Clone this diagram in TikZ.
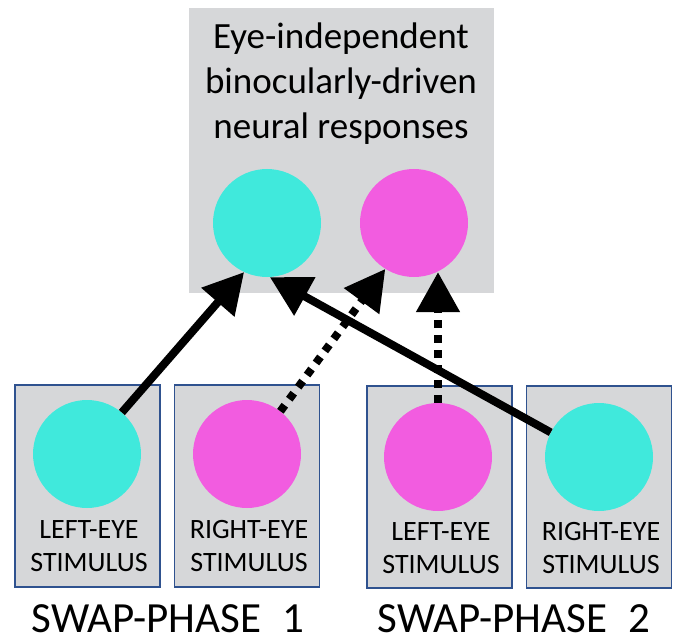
\documentclass[tikz,border=0pt]{standalone}
\usepackage{fontspec}
\setmainfont{Carlito}
\usetikzlibrary{arrows.meta}
\definecolor{respgray}{RGB}{214,215,217}
\definecolor{eyecyan}{RGB}{64,233,220}
\definecolor{eyemag}{RGB}{242,92,224}
\definecolor{boxblue}{RGB}{47,82,143}
\tikzset{grayback/.style={fill=respgray, draw=none, inner sep=0pt},
  stimbox/.style={fill=respgray, draw=boxblue, line width=1.5pt,
    minimum width=145pt, minimum height=202pt, inner sep=0pt},
  disc/.style={circle, minimum size=108pt, inner sep=0pt},
  stimlabel/.style={font=\fontsize{28}{33}\selectfont, align=center, anchor=base, inner sep=0pt},
  phaselabel/.style={font=\fontsize{43}{45}\selectfont, anchor=base, inner sep=0pt, text depth=0pt},
  drive/.style={line width=8pt, -{Triangle[length=40pt,width=42pt]}},
  swapdrive/.style={drive, dash pattern=on 7.5pt off 7.5pt}}

\begin{document}
\begin{tikzpicture}[x=1pt,y=-1pt]
  \useasboundingbox (0,0) rectangle (680,639);
  % binocular responses
  \node [grayback, minimum width=305pt, minimum height=285pt] (resp) at (341.5,150.5) {};
  \node [font=\fontsize{37}{45}\selectfont, align=center, anchor=base, inner sep=0pt] (resptext) at (341,139) {Eye-independent\\binocularly-driven\\neural responses};
  \node [disc, fill=eyecyan] (respL) at (267,223) {};
  \node [disc, fill=eyemag] (respR) at (414,223) {};

  % stimuli
  \node [stimbox] (boxA) at (87.5,486) {};
  \node [stimbox] (boxB) at (247,486) {};
  \node [stimbox] (boxC) at (439.5,487) {};
  \node [stimbox] (boxD) at (599,487) {};
  \node [disc, fill=eyecyan] (stimA) at (87,454) {};
  \node [disc, fill=eyemag] (stimB) at (247,454) {};
  \node [disc, fill=eyemag] (stimC) at (438,457) {};
  \node [disc, fill=eyecyan] (stimD) at (599,457) {};
  \node [stimlabel] (labA) at (89,571) {LEFT-EYE\\STIMULUS};
  \node [stimlabel] (labB) at (249,571) {RIGHT-EYE\\STIMULUS};
  \node [stimlabel] (labC) at (441,573) {LEFT-EYE\\STIMULUS};
  \node [stimlabel] (labD) at (601,573) {RIGHT-EYE\\STIMULUS};

  \node [phaselabel] (phaseA) at (168,632) {SWAP-PHASE\hspace{0.5em}1};
  \node [phaselabel] (phaseB) at (514,632) {SWAP-PHASE\hspace{0.5em}2};

  % connections
  \draw [drive] (stimA.50) -- (respL.245);
  \draw [swapdrive] (stimB.52) -- (respR.238);
  \draw [swapdrive] (stimC.north) -- (stimC.north |- respR.-65);
  \draw [drive] (stimD.153) -- (respL.-87);
\end{tikzpicture}
\end{document}
